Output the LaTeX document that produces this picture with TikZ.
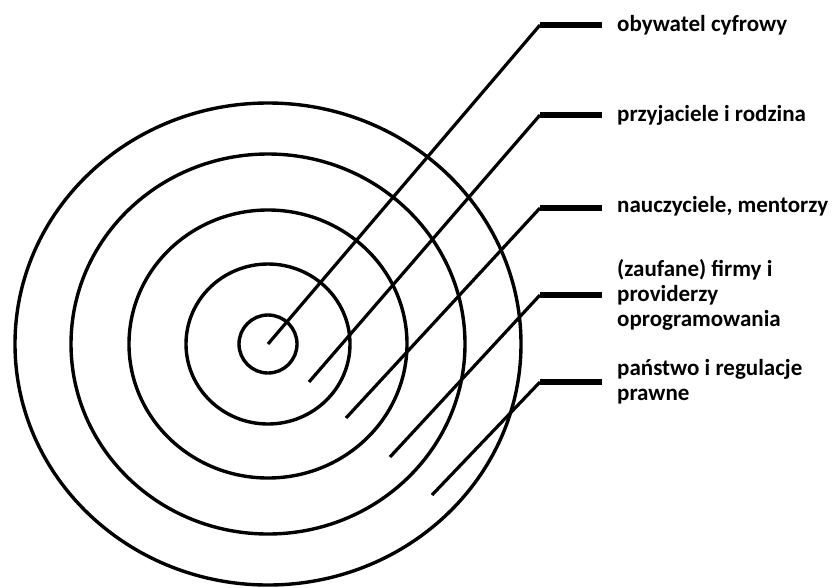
\documentclass[tikz,border=0pt]{standalone}
\usepackage{fontspec}
\setmainfont{Carlito}
\usetikzlibrary{positioning,calc}
\tikzset{
  ring/.style={draw=black,line width=3.4pt},
  leader/.style={draw=black,line width=3.2pt},
  barline/.style={draw=black,line width=5.4pt},
  lbl/.style={anchor=west,align=left,inner sep=0pt,
    font=\bfseries\fontsize{23}{25}\selectfont}
}

\begin{document}
\begin{tikzpicture}[x=1pt,y=-1pt]
  \useasboundingbox (0,0) rectangle (835,587);

  \coordinate (ctr) at (268,344);
  \draw[ring] (ctr) ellipse [x radius=29pt,y radius=29pt];
  \draw[ring] (ctr) ellipse [x radius=82pt,y radius=80pt];
  \draw[ring] (ctr) ellipse [x radius=139pt,y radius=134pt];
  \draw[ring] (ctr) ellipse [x radius=197pt,y radius=190pt];
  \draw[ring] (ctr) ellipse [x radius=253pt,y radius=241pt];

  \node[lbl] (obyw) at (617,25) {obywatel cyfrowy};
  \node[lbl] (rodz) at (617,115) {przyjaciele i rodzina};
  \node[lbl] (naucz) at (617,206) {nauczyciele, mentorzy};
  \node[lbl] (firmy) at (617,295) {(zaufane) firmy i\\providerzy\\oprogramowania};
  \node[lbl] (panst) at (617,382) {państwo i regulacje\\prawne};

  \coordinate (s1) at (268,344); \coordinate (b1) at (540,25);
  \coordinate (s2) at (309,382); \coordinate (b2) at (540,115);
  \coordinate (s3) at (346,418); \coordinate (b3) at (540,208);
  \coordinate (s4) at (390,457); \coordinate (b4) at (540,295);
  \coordinate (s5) at (432,495); \coordinate (b5) at (540,382);

  \draw[leader] (s1) -- (b1); \draw[barline] (b1) -- ([xshift=-15pt]obyw.west|-b1);
  \draw[leader] (s2) -- (b2); \draw[barline] (b2) -- ([xshift=-15pt]rodz.west|-b2);
  \draw[leader] (s3) -- (b3); \draw[barline] (b3) -- ([xshift=-15pt]naucz.west|-b3);
  \draw[leader] (s4) -- (b4); \draw[barline] (b4) -- ([xshift=-15pt]firmy.west|-b4);
  \draw[leader] (s5) -- (b5); \draw[barline] (b5) -- ([xshift=-15pt]panst.west|-b5);
\end{tikzpicture}
\end{document}
